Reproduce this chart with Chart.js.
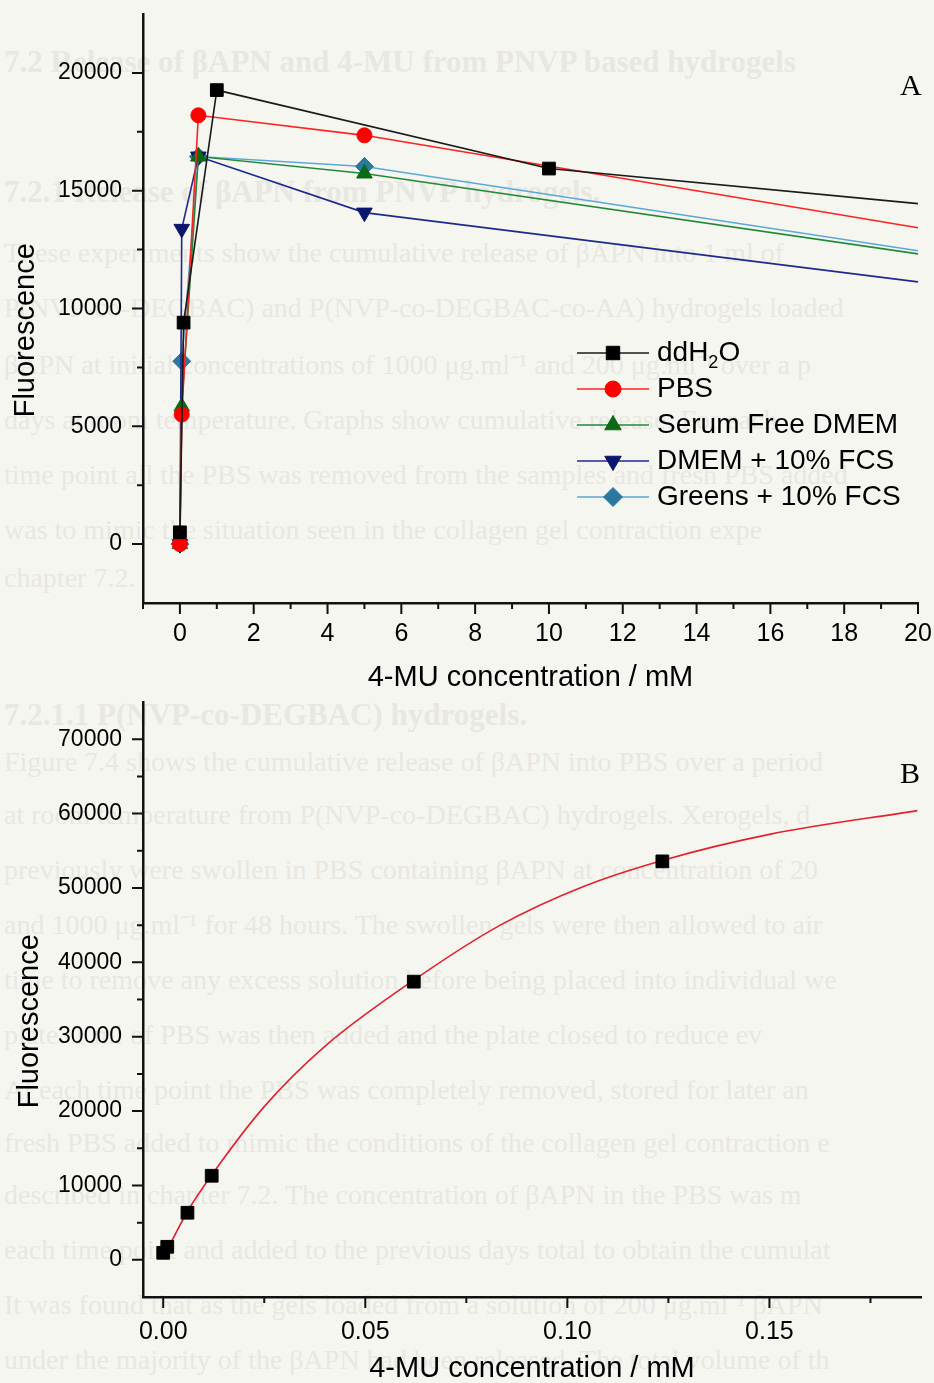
<!DOCTYPE html>
<html>
<head>
<meta charset="utf-8">
<title>4-MU fluorescence</title>
<script src="https://cdn.jsdelivr.net/npm/chart.js@4.4.1/dist/chart.umd.min.js"></script>
<style>
  html, body { margin: 0; padding: 0; }
  body { width: 934px; height: 1383px; overflow: hidden; position: relative; background: #f6f6f1; }
  #page { position: absolute; left: 0; top: 0; width: 934px; height: 1383px; font-family: "Liberation Serif", serif; font-size: 28px; line-height: 34px; color: #e8e7e1; }
  #page div { position: absolute; left: 4px; white-space: nowrap; }
  #page .h { font-weight: bold; font-size: 31px; }
  canvas { position: absolute; left: 0; }
  #chartA { top: 0; }
  #chartB { top: 690px; }
  .panel { position: absolute; font-family: "Liberation Serif", serif; font-size: 30px; line-height: 34px; color: #000; }
</style>
</head>
<body>
<div id="page">
  <div class="h" style="top:45px">7.2 Release of βAPN and 4-MU from PNVP based hydrogels</div>
  <div class="h" style="top:175px">7.2.1 Release of βAPN from PNVP hydrogels.</div>
  <div style="top:236px">These experiments show the cumulative release of βAPN into 1 ml of</div>
  <div style="top:291px">P(NVP-co-DEGBAC) and P(NVP-co-DEGBAC-co-AA) hydrogels loaded</div>
  <div style="top:348px">βAPN at initial concentrations of 1000 μg.ml⁻¹ and 200 μg.ml⁻¹ over a p</div>
  <div style="top:403px">days at room temperature. Graphs show cumulative release. For each</div>
  <div style="top:458px">time point all the PBS was removed from the samples and fresh PBS added</div>
  <div style="top:513px">was to mimic the situation seen in the collagen gel contraction expe</div>
  <div style="top:561px">chapter 7.2.</div>
  <div class="h" style="top:698px">7.2.1.1 P(NVP-co-DEGBAC) hydrogels.</div>
  <div style="top:745px">Figure 7.4 shows the cumulative release of βAPN into PBS over a period</div>
  <div style="top:798px">at room temperature from P(NVP-co-DEGBAC) hydrogels. Xerogels, d</div>
  <div style="top:853px">previously were swollen in PBS containing βAPN at concentration of 20</div>
  <div style="top:908px">and 1000 μg.ml⁻¹ for 48 hours. The swollen gels were then allowed to air</div>
  <div style="top:963px">time to remove any excess solution before being placed into individual we</div>
  <div style="top:1018px">plate. 1 ml of PBS was then added and the plate closed to reduce ev</div>
  <div style="top:1073px">At each time point the PBS was completely removed, stored for later an</div>
  <div style="top:1126px">fresh PBS added to mimic the conditions of the collagen gel contraction e</div>
  <div style="top:1178px">described in chapter 7.2. The concentration of βAPN in the PBS was m</div>
  <div style="top:1233px">each time point and added to the previous days total to obtain the cumulat</div>
  <div style="top:1288px">It was found that as the gels loaded from a solution of 200 μg.ml⁻¹ βAPN</div>
  <div style="top:1343px">under the majority of the βAPN had been released. The total volume of th</div>
</div>
<canvas id="chartA" width="934" height="700"></canvas>
<canvas id="chartB" width="934" height="693"></canvas>
<div class="panel" style="left:900px;top:68px">A</div>
<div class="panel" style="left:900px;top:756px">B</div>
<script>
// ---------- panel A : release media ----------
var seriesNames = ["ddH2O", "PBS", "Serum Free DMEM", "DMEM + 10% FCS", "Greens + 10% FCS"];
var waterX = [0, 0.1, 1, 10, 20];
var waterY = [500, 9400, 19270, 15940, 14450];
var pbsX = [0, 0.05, 0.5, 5, 20];
var pbsY = [0, 5500, 18200, 17350, 13430];
var sfdX = [0, 0.05, 0.5, 5, 20];
var sfdY = [0, 5840, 16450, 15730, 12320];
var dmemX = [0, 0.05, 0.5, 5, 20];
var dmemY = [0, 13380, 16450, 14070, 11130];
var greensX = [0, 0.05, 0.5, 5, 20];
var greensY = [0, 7760, 16450, 16030, 12450];

var xTicksA = [0, 2, 4, 6, 8, 10, 12, 14, 16, 18, 20];
var xMinorA = [-1, 1, 3, 5, 7, 9, 11, 13, 15, 17, 19];
var yTicksA = [0, 5000, 10000, 15000, 20000];
var yMinorA = [2500, 7500, 12500, 17500];

// ---------- panel B : calibration ----------
var calX = [0, 0.001, 0.006, 0.012, 0.062, 0.1235];
var calY = [940, 1750, 6330, 11300, 37400, 53570];
// fitted curve
var fitX = [0.0015, 0.006, 0.012, 0.025, 0.04, 0.062, 0.0834, 0.104, 0.1235, 0.15, 0.1866];
var fitY = [1900, 6500, 11400, 20600, 28700, 37600, 45000, 50200, 53700, 57200, 60400];

var xTicksB = [0, 0.05, 0.1, 0.15];
var xMinorB = [0.025, 0.075, 0.125, 0.175];
var yTicksB = [0, 10000, 20000, 30000, 40000, 50000, 60000, 70000];
var yMinorB = [5000, 15000, 25000, 35000, 45000, 55000, 65000];

function pts(xs, ys) {
  return xs.map(function (x, i) { return { x: x, y: ys[i] }; });
}

function hasFont(name) {
  var c = document.createElement('canvas').getContext('2d');
  c.font = '40px monospace';
  var a = c.measureText('0123456789.').width;
  c.font = '40px "' + name + '", monospace';
  var b = c.measureText('0123456789.').width;
  return a !== b;
}
var narrow = hasFont('Liberation Sans Narrow');
var xTickFont = narrow ? { family: '"Liberation Sans Narrow"', size: 29 } : { family: '"Liberation Sans"', size: 25 };
var yTickFont = { family: '"Liberation Sans"', size: 23 };
var titleFont = { family: '"Liberation Sans"', size: 29, lineHeight: 1 };

// tick marks, major and minor, drawn outside the axes
var tickMarks = {
  id: 'tickMarks',
  afterDraw: function (chart, args, o) {
    var ctx = chart.ctx, sx = chart.scales.x, sy = chart.scales.y;
    ctx.save();
    ctx.strokeStyle = '#111';
    ctx.lineWidth = 2;
    ctx.beginPath();
    function xt(v, len) {
      var p = sx.getPixelForValue(v);
      ctx.moveTo(p, sx.top); ctx.lineTo(p, sx.top + len);
    }
    function yt(v, len) {
      var p = sy.getPixelForValue(v);
      ctx.moveTo(sy.right, p); ctx.lineTo(sy.right - len, p);
    }
    o.xMajor.forEach(function (v) { xt(v, 11); });
    o.xMinor.forEach(function (v) { xt(v, 6); });
    o.yMajor.forEach(function (v) { yt(v, 11); });
    o.yMinor.forEach(function (v) { yt(v, 6); });
    ctx.stroke();
    ctx.restore();
  }
};

// legend with line + marker, like the original plot
var lineLegend = {
  id: 'lineLegend',
  afterDraw: function (chart, args, o) {
    if (!o.show) return;
    var ctx = chart.ctx;
    ctx.save();
    chart.data.datasets.forEach(function (ds, i) {
      var y = o.top + i * o.step;
      ctx.strokeStyle = ds.borderColor;
      ctx.lineWidth = ds.borderWidth;
      ctx.beginPath();
      ctx.moveTo(o.left, y);
      ctx.lineTo(o.left + o.len, y);
      ctx.stroke();
      ctx.fillStyle = ds.pointBackgroundColor;
      ctx.strokeStyle = ds.pointBorderColor;
      ctx.lineWidth = 1;
      Chart.helpers.drawPoint(ctx, {
        pointStyle: ds.pointStyle, rotation: ds.pointRotation || 0,
        radius: ds.pointHoverRadius + 0.5, borderWidth: 1
      }, o.left + o.len / 2, y);
      ctx.fillStyle = '#000';
      ctx.textBaseline = 'middle';
      ctx.textAlign = 'left';
      ctx.font = '28px "Liberation Sans"';
      var tx = o.left + o.len + 8;
      if (ds.label === 'ddH2O') {
        ctx.fillText('ddH', tx, y);
        tx += ctx.measureText('ddH').width;
        ctx.font = '18px "Liberation Sans"';
        ctx.fillText('2', tx, y + 10);
        tx += ctx.measureText('2').width;
        ctx.font = '28px "Liberation Sans"';
        ctx.fillText('O', tx, y);
      } else {
        ctx.fillText(ds.label, tx, y);
      }
    });
    ctx.restore();
  }
};

function series(name, xs, ys, line, mark, style, r, rot) {
  return {
    label: name,
    data: pts(xs, ys),
    showLine: true,
    borderColor: line,
    borderWidth: 1.6,
    pointBackgroundColor: mark,
    pointBorderColor: mark,
    pointBorderWidth: 1,
    pointStyle: style,
    pointRotation: rot || 0,
    pointRadius: xs.map(function (x, i) { return i === xs.length - 1 ? 0 : r; }),
    pointHoverRadius: r
  };
}

function axisX(min, max, major, fmt, padTicks, padBottom, height) {
  return {
    type: 'linear', min: min, max: max,
    afterBuildTicks: function (s) { s.ticks = major.map(function (v) { return { value: v }; }); },
    afterFit: function (s) { s.height = height; s.paddingLeft = 0; s.paddingRight = 0; },
    grid: { display: false, drawTicks: false },
    border: { display: true, color: '#111', width: 2.5 },
    ticks: { color: '#000', font: xTickFont, padding: padTicks, maxRotation: 0, autoSkip: false, callback: fmt },
    title: { display: true, text: '4-MU concentration / mM', color: '#000', font: titleFont, padding: { bottom: padBottom } }
  };
}

function axisY(min, max, major, padTop) {
  return {
    min: min, max: max,
    afterBuildTicks: function (s) { s.ticks = major.map(function (v) { return { value: v }; }); },
    // fixed width, and no extra room reserved for the end labels
    afterFit: function (s) { s.width = 143; s.paddingTop = 0; s.paddingBottom = 0; },
    grid: { display: false, drawTicks: false },
    border: { display: true, color: '#111', width: 2.5 },
    ticks: { color: '#000', font: yTickFont, padding: 21, autoSkip: false, callback: function (v) { return String(v); } },
    title: { display: true, text: 'Fluorescence\u2003\u2002', color: '#000', font: titleFont, padding: { top: padTop } }
  };
}

var xA = axisX(-1, 20, xTicksA, function (v) { return String(v); }, 16, 8, 97);
var xB = axisX(-0.005, 0.1875, xTicksB, function (v) { return v.toFixed(2); }, 20, 0, 86);

new Chart(document.getElementById('chartA'), {
  type: 'scatter',
  data: {
    datasets: [
      series(seriesNames[0], waterX, waterY, '#1a1a1a', '#000000', 'rect', 9),
      series(seriesNames[1], pbsX, pbsY, '#ff2020', '#ff0000', 'circle', 7.5),
      series(seriesNames[2], sfdX, sfdY, '#23893a', '#0a6a16', 'triangle', 9),
      series(seriesNames[3], dmemX, dmemY, '#1c2a90', '#0b1670', 'triangle', 9, 180),
      series(seriesNames[4], greensX, greensY, '#5aa8d8', '#2a78a0', 'rectRot', 9)
    ]
  },
  options: {
    responsive: false,
    animation: false,
    layout: { autoPadding: false, padding: { top: 14, right: 16, left: 0, bottom: 0 } },
    scales: { x: xA, y: axisY(-2500, 22500, yTicksA, 11) },
    plugins: {
      legend: { display: false },
      tooltip: { enabled: false },
      tickMarks: { xMajor: xTicksA, xMinor: xMinorA, yMajor: yTicksA, yMinor: yMinorA },
      lineLegend: { show: true, left: 577, len: 72, top: 353, step: 36 }
    }
  },
  plugins: [tickMarks, lineLegend]
});

new Chart(document.getElementById('chartB'), {
  type: 'scatter',
  data: {
    datasets: [
      {
        label: 'Calibration',
        data: pts(calX, calY),
        showLine: false,
        pointStyle: 'rect',
        pointRadius: 9,
        pointBackgroundColor: '#000',
        pointBorderColor: '#000'
      },
      {
        label: 'Fit',
        data: pts(fitX, fitY),
        showLine: true,
        borderColor: '#e3202c',
        borderWidth: 1.6,
        pointRadius: 0,
        cubicInterpolationMode: 'monotone'
      }
    ]
  },
  options: {
    responsive: false,
    animation: false,
    layout: { autoPadding: false, padding: { top: 12, right: 13, left: 0, bottom: 0 } },
    scales: { x: xB, y: axisY(-5000, 75000, yTicksB, 15) },
    plugins: {
      legend: { display: false },
      tooltip: { enabled: false },
      tickMarks: { xMajor: xTicksB, xMinor: xMinorB, yMajor: yTicksB, yMinor: yMinorB },
      lineLegend: { show: false }
    }
  },
  plugins: [tickMarks, lineLegend]
});
</script>
</body>
</html>
